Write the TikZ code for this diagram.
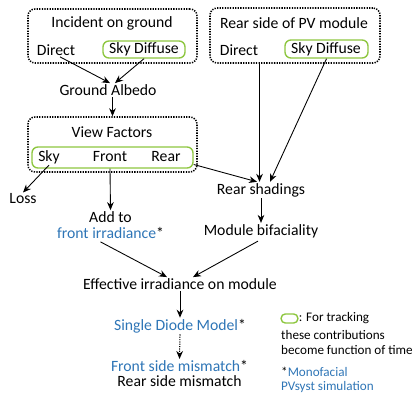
\documentclass[tikz,border=0pt]{standalone}
\usepackage{fontspec}
\setmainfont{Carlito}
\usetikzlibrary{arrows.meta,positioning,calc}
\definecolor{pvblue}{HTML}{2E75B6}
\definecolor{trackgreen}{HTML}{8DC63F}

\begin{document}
\begin{tikzpicture}[x=0.03cm,y=-0.03cm,
  font=\fontsize{13.4}{13.6}\selectfont,
  tx/.style={inner sep=1pt},
  small/.style={font=\fontsize{11.2}{12}\selectfont,anchor=west,inner sep=0pt},
  grp/.style={draw,line width=1.3pt,dash pattern=on 1.1pt off 1.1pt,rounded corners=6pt},
  trk/.style={draw=trackgreen,line width=1.2pt,rounded corners=5pt},
  ar/.style={-{Stealth[length=2.4mm,width=2mm]},line width=0.75pt},
  dar/.style={ar,line width=0.9pt,dash pattern=on 1pt off 1pt}]
  \useasboundingbox (0,0) rectangle (412,394);
  % dotted group boxes
  \node[grp,minimum width=5.07cm,minimum height=1.62cm] (gbox) at (112.5,36) {};
  \node[grp,minimum width=5.1cm,minimum height=1.65cm] (rbox) at (295,35.5) {};
  \node[grp,minimum width=5.07cm,minimum height=1.65cm] (vbox) at (112.5,144.5) {};
  % green tracking boxes
  \node[trk,minimum width=2.46cm,minimum height=0.51cm] (gtrk) at (144,49.5) {};
  \node[trk,minimum width=2.49cm,minimum height=0.54cm] (rtrk) at (326.5,49) {};
  \node[trk,minimum width=4.83cm,minimum height=0.63cm] (vrow) at (112.5,157.5) {};
  % incident on ground
  \node[tx] (inc) at (112,23) {Incident on ground};
  \node[tx] (gdir) at (56,50) {Direct};
  \node[tx] (gsky) at (144,49) {Sky Diffuse};
  \node[tx] (alb) at (108,90) {Ground Albedo};
  % rear side
  \node[tx] (rear) at (294,23) {Rear side of PV module};
  \node[tx] (rdir) at (239,50) {Direct};
  \node[tx] (rsky) at (326,49) {Sky Diffuse};
  % view factors
  \node[tx] (vf) at (112,132) {View Factors};
  \node[tx] (vsky) at (49,157) {Sky};
  \node[tx] (vfront) at (110,157) {Front};
  \node[tx] (vrear) at (166,157) {Rear};
  \node[tx] (loss) at (23,199) {Loss};
  \node[tx,align=center] (add) at (110.5,225) {Add to\\\textcolor{pvblue}{front irradiance}*};
  \node[tx] (shad) at (261,190) {Rear shadings};
  \node[tx] (bif) at (261,231) {Module bifaciality};
  % module level
  \node[tx] (eff) at (180,284) {Effective irradiance on module};
  \node[tx] (sdm) at (180,326) {\textcolor{pvblue}{Single Diode Model}*};
  \node[tx,align=center,font=\fontsize{13.4}{12.8}\selectfont] (mism) at (179.5,373.5) {\textcolor{pvblue}{Front side mismatch}*\\Rear side mismatch};
  % legend
  \node[trk,rounded corners=3.5pt,minimum width=0.5cm,minimum height=0.27cm,inner sep=0pt] (key) at (289.5,318.5) {};
  \node[small] (keytx) at (key.east) {: For tracking};
  \node[small] (note1) at (281,334.5) {these contributions};
  \node[small] (note2) at (281,350) {become function of time};
  \node[small] (mono) at (281,372) {*\textcolor{pvblue}{Monofacial}};
  \node[small] (pvsyst) at (281,387) {\textcolor{pvblue}{PVsyst simulation}};
  % arrows
  \draw[ar] ($(gdir.south)+(4,0)$) -- ($(alb.north)+(2,0)$);
  \draw[ar] (gtrk.south) -- ($(alb.north)+(7,0)$);
  \draw[ar] (alb.south -| vbox.north) -- (vbox.north);
  \draw[ar] (rdir.south east |- rbox.south) -- (rdir.south east |- shad.north);
  \draw[ar] (rtrk.south) -- ($(shad.north)+(9,0)$);
  \draw[ar] (vsky.south) -- (loss.north);
  \draw[ar] (vfront.south |- vrow.south) -- (add.north);
  \draw[ar] ($(vrow.east)+(0,7)$) -- ($(shad.north)+(-4,0)$);
  \draw[ar] (shad.south) -- (bif.north);
  \draw[ar] ($(add.south)+(-10,2)$) -- ($(eff.north)+(-13,0)$);
  \draw[ar] ($(bif.south)+(-3,2)$) -- ($(eff.north)+(13,0)$);
  \draw[ar] (eff.south) -- (sdm.north);
  \draw[dar] (sdm.south) -- (mism.north);
\end{tikzpicture}
\end{document}
